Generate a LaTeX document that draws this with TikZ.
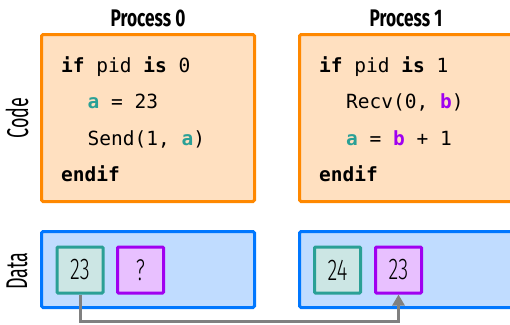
\documentclass[tikz,border=0pt]{standalone}
\usepackage{fontspec}
\usetikzlibrary{arrows.meta}
\newfontfamily\codefont{DejaVu Sans Mono}
\newfontfamily\headfont[FakeStretch=0.72]{Fira Sans}
\newfontfamily\labfont[FakeStretch=0.6]{Fira Sans}
\newfontfamily\numfont[FakeStretch=0.68]{Fira Sans Light}
\definecolor{orstroke}{RGB}{255,136,0}
\definecolor{orfill}{RGB}{255,224,192}
\definecolor{blstroke}{RGB}{0,119,255}
\definecolor{blfill}{RGB}{192,220,255}
\definecolor{tlstroke}{RGB}{42,160,150}
\definecolor{tlfill}{RGB}{204,230,228}
\definecolor{tltext}{RGB}{42,160,150}
\definecolor{pustroke}{RGB}{160,0,240}
\definecolor{pufill}{RGB}{232,192,255}
\definecolor{arrgray}{RGB}{128,128,128}
\tikzset{
  codebox/.style={draw=orstroke, fill=orfill, line width=3pt, rounded corners=1.5pt, minimum width=213pt, minimum height=167pt, inner sep=0pt},
  databox/.style={draw=blstroke, fill=blfill, line width=3pt, rounded corners=1.5pt, minimum width=213pt, minimum height=76pt, inner sep=0pt},
  varA/.style={draw=tlstroke, fill=tlfill, line width=3pt, rounded corners=1pt, minimum width=46pt, minimum height=46pt, inner sep=0pt, font=\numfont\fontsize{30}{32}\selectfont},
  varB/.style={draw=pustroke, fill=pufill, line width=3pt, rounded corners=1pt, minimum width=46pt, minimum height=46pt, inner sep=0pt, font=\numfont\fontsize{30}{32}\selectfont},
  codeline/.style={anchor=base west, inner sep=0pt, font=\codefont\fontsize{19.5}{21}\selectfont},
  header/.style={anchor=base, inner sep=0pt, font=\headfont\bfseries\fontsize{24}{26}\selectfont},
  sidelabel/.style={rotate=90, inner sep=0pt, font=\labfont\fontsize{30}{32}\selectfont},
  conn/.style={draw=arrgray, line width=3pt, -{Triangle[width=12pt,length=11pt]}}
}
\newcommand{\va}{\textcolor{tltext}{\textbf{a}}}
\newcommand{\vb}{\textcolor{pustroke}{\textbf{b}}}
\begin{document}
\begin{tikzpicture}[x=1pt,y=-1pt]
\useasboundingbox (0,0) rectangle (510,324);
\begin{scope}
\clip (0,0) rectangle (510,324);
% headers
\node[header] (h0) at (148,26) {Process 0};
\node[header] (h1) at (406,26) {Process 1};
% side labels
\node[sidelabel] (lcode) at (17,118) {Code};
\node[sidelabel] (ldata) at (17,271) {Data};
% code boxes
\node[codebox] (code0) at (148,118) {};
\node[codebox] (code1) at (406,118) {};
% code text process 0
\node[codeline] (c01) at (61,72) {\textbf{if} pid \textbf{is} 0};
\node[codeline] (c02) at (87.5,108.5) {\va{} = 23};
\node[codeline] (c03) at (87.5,145) {Send(1, \va)};
\node[codeline] (c04) at (61,181.5) {\textbf{endif}};
% code text process 1
\node[codeline] (c11) at (319,72) {\textbf{if} pid \textbf{is} 1};
\node[codeline] (c12) at (346,108.5) {Recv(0, \vb)};
\node[codeline] (c13) at (346,145) {\va{} = \vb{} + 1};
\node[codeline] (c14) at (319,181.5) {\textbf{endif}};
% data boxes
\node[databox] (data0) at (148,269.5) {};
\node[databox] (data1) at (406,269.5) {};
% variables
\node[varA] (a0) at (80,270) {23};
\node[varB] (b0) at (140.5,270) {?};
\node[varA] (a1) at (337.5,270) {24};
\node[varB] (b1) at (398.5,270) {23};
% connector
\coordinate (turn) at (80,321.5);
\draw[conn] (a0.south) -- (turn) -| (b1.south);
\end{scope}
\end{tikzpicture}
\end{document}
